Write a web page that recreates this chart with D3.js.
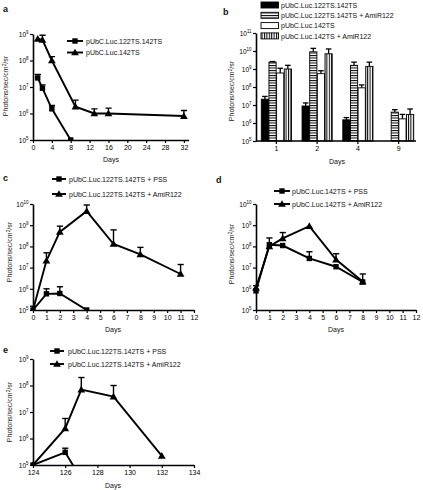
<!DOCTYPE html>
<html><head><meta charset="utf-8">
<script src="https://cdn.jsdelivr.net/npm/d3@7"></script>
<style>body{margin:0;background:#fff} svg{display:block}</style>
</head><body><svg id="chart" width="423" height="490"></svg>
<script>
// ---------- DATA ----------
// Panel a
const aNames = ["pUbC.Luc.122TS.142TS", "pUbC.Luc.142TS"];
const aDays1 = [1, 2, 4, 8];
const aVals1 = [2.2e7, 9e6, 1.5e6, 1e5];
const aErr1 = [3e7, 1.2e7, 2e6, null];
const aDays2 = [1, 2, 4, 9, 13, 16, 32];
const aVals2 = [6.5e8, 6e8, 1e8, 1.8e6, 1e6, 1e6, 8e5];
const aErr2 = [null, 9e8, 1.4e8, 3.2e6, 1.5e6, 1.6e6, 1.3e6];
const aXTicks = [0, 4, 8, 12, 16, 20, 24, 28, 32];
const aYExp = [5, 6, 7, 8, 9];

// Panel b
const bDays = ["1", "2", "4", "9"];
const bNames = ["pUbC.Luc.122TS.142TS", "pUbC.Luc.122TS.142TS + AmiR122", "pUbC.Luc.142TS", "pUbC.Luc.142TS + AmiR122"];
const bVals1 = [2.1e7, 8.8e6, 1.5e6, null];
const bErr1 = [3e7, 1.3e7, 2e6, null];
const bVals2 = [2.4e9, 9e9, 1.6e9, 4e6];
const bErr2 = [2.6e9, 1.4e10, 2.4e9, 5.5e6];
const bVals3 = [6e8, 5.5e8, 9e7, 1.7e6];
const bErr3 = [1.1e9, 8e8, 1.3e8, 3e6];
const bVals4 = [1e9, 7e9, 1.4e9, 3e6];
const bErr4 = [1.6e9, 1.3e10, 2.4e9, 6e6];
const bYExp = [5, 6, 7, 8, 9, 10, 11];

// Panel c
const cNames = ["pUbC.Luc.122TS.142TS + PSS", "pUbC.Luc.122TS.142TS + AmiR122"];
const cDays1 = [0, 1, 2, 4];
const cVals1 = [1e5, 5.8e5, 6e5, 1e5];
const cErr1 = [1.5e5, 1e6, 1.25e6, null];
const cDays2 = [0, 1, 2, 4, 6, 8, 11];
const cVals2 = [1e5, 2.1e7, 4.8e8, 4.6e9, 1.3e8, 4.2e7, 5e6];
const cErr2 = [null, 5e7, 9e8, 9e9, 6e8, 9e7, 1.4e7];
const cdXTicks = [0, 1, 2, 3, 4, 5, 6, 7, 8, 9, 10, 11, 12];
const cdYExp = [5, 6, 7, 8, 9, 10];

// Panel d
const dNames = ["pUbC.Luc.142TS + PSS", "pUbC.Luc.142TS + AmiR122"];
const dDays1 = [0, 1, 2, 4, 6, 8];
const dVals1 = [8e5, 1.2e8, 1.1e8, 2.7e7, 1.1e7, 2.1e6];
const dErr1 = [1.4e6, 2.5e8, null, 5.6e7, null, 5e6];
const dDays2 = [0, 1, 2, 4, 6, 8];
const dVals2 = [1.1e6, 1e8, 2.4e8, 9e8, 2.4e7, 2.2e6];
const dErr2 = [null, null, 4.5e8, null, 4.5e7, null];

// Panel e
const eNames = ["pUbC.Luc.122TS.142TS + PSS", "pUbC.Luc.122TS.142TS + AmiR122"];
const eDays1 = [124, 126, 127];
const eVals1 = [1e5, 3e5, 3e4];
const eErr1 = [null, 4.3e5, null];
const eDays2 = [124, 126, 127, 129, 132];
const eVals2 = [1e5, 2.4e6, 7e7, 3.8e7, 2.2e5];
const eErr2 = [null, 5.7e6, 2e8, 1e8, null];
const eXTicks = [124, 126, 128, 130, 132, 134];
const eYExp = [5, 6, 7, 8, 9];

// ---------- DRAWING ----------
const FONT = '"Liberation Sans", Arial, Helvetica, sans-serif';
const svg = d3.select("#chart").attr("font-family", FONT);

const defs = svg.append("defs");
const ph = defs.append("pattern").attr("id", "hstripe").attr("patternUnits", "userSpaceOnUse")
  .attr("width", 4).attr("height", 2.5);
ph.append("rect").attr("width", 4).attr("height", 2.5).attr("fill", "#fff");
ph.append("rect").attr("width", 4).attr("height", 1).attr("fill", "#000");
const pv = defs.append("pattern").attr("id", "vstripe").attr("patternUnits", "userSpaceOnUse")
  .attr("width", 2.4).attr("height", 4);
pv.append("rect").attr("width", 2.4).attr("height", 4).attr("fill", "#fff");
pv.append("rect").attr("width", 1).attr("height", 4).attr("fill", "#000");

function supText(t, exp, fs) {
  t.append("tspan").text("10");
  t.append("tspan").attr("dy", -fs * 0.45).attr("font-size", fs * 0.68).text(exp);
}

function yAxis(y, x0, exps, fs) {
  const ax = d3.axisLeft(y).tickValues(exps.map(e => Math.pow(10, e))).tickSize(3).tickSizeOuter(0).tickFormat(() => "");
  const g = svg.append("g").attr("transform", `translate(${x0},0)`).call(ax).attr("font-family", FONT);
  g.select(".domain").attr("stroke-width", 1.6);
  g.selectAll(".tick line").attr("stroke-width", 1.2);
  g.selectAll(".tick").each(function (d) {
    const t = d3.select(this).select("text");
    t.text(null).attr("x", -4.5).attr("dy", "0.35em").attr("font-size", fs).attr("text-anchor", "end");
    supText(t, Math.round(Math.log10(d)), fs);
  });
}

function xAxis(x, y0, ticks, fs) {
  const ax = d3.axisBottom(x).tickValues(ticks).tickSize(3).tickSizeOuter(0);
  const g = svg.append("g").attr("transform", `translate(0,${y0})`).call(ax).attr("font-family", FONT);
  g.select(".domain").attr("stroke-width", 1.6);
  g.selectAll(".tick line").attr("stroke-width", 1.2);
  g.selectAll(".tick text").attr("font-size", fs).attr("y", 5.5);
  return g;
}

function ylabel(x, y, fs) {
  const t = svg.append("text").attr("transform", `translate(${x},${y}) rotate(-90)`)
    .attr("text-anchor", "middle").attr("font-size", fs).attr("fill", "#222");
  t.append("tspan").text("Photons/sec/cm");
  t.append("tspan").attr("dy", -2.5).attr("font-size", fs * 0.7).text("2");
  t.append("tspan").attr("dy", 2.5).text("/sr");
}
function textAt(x, y, s, fs, opts = {}) {
  return svg.append("text").attr("x", x).attr("y", y).attr("font-size", fs)
    .attr("text-anchor", opts.anchor || "start").attr("font-weight", opts.bold ? "bold" : "normal")
    .attr("fill", "#111").text(s);
}

function marker(g, sym, cx, cy) {
  if (sym === "square") {
    g.append("rect").attr("x", cx - 2.7).attr("y", cy - 2.7).attr("width", 5.4).attr("height", 5.4).attr("fill", "#000");
  } else {
    g.append("path").attr("d", d3.symbol().type(d3.symbolTriangle).size(26)())
      .attr("transform", `translate(${cx},${cy + 0.6})`).attr("fill", "#000");
  }
}

let clipN = 0;
function linePanel(p) {
  const x = d3.scaleLinear().domain(p.xd).range(p.xr);
  const y = d3.scaleLog().domain(p.yd).range(p.yr);
  const id = "clip" + (clipN++);
  defs.append("clipPath").attr("id", id).append("rect")
    .attr("x", p.xr[0] - 6).attr("y", p.yr[1] - 12).attr("width", p.xr[1] - p.xr[0] + 12).attr("height", p.yr[0] - p.yr[1] + 12);
  const g = svg.append("g").attr("clip-path", `url(#${id})`);
  const line = d3.line().x(d => x(d[0])).y(d => y(d[1]));
  p.series.forEach(s => {
    const pts = s.days.map((d, i) => [d, s.vals[i], s.err[i]]);
    g.append("path").datum(pts).attr("d", line).attr("fill", "none").attr("stroke", "#000").attr("stroke-width", 1.9);
    pts.forEach(q => {
      if (q[2] != null) {
        g.append("line").attr("x1", x(q[0])).attr("x2", x(q[0])).attr("y1", y(q[1])).attr("y2", y(q[2]))
          .attr("stroke", "#000").attr("stroke-width", 1.4);
        g.append("line").attr("x1", x(q[0]) - 3).attr("x2", x(q[0]) + 3.2).attr("y1", y(q[2])).attr("y2", y(q[2]))
          .attr("stroke", "#000").attr("stroke-width", 1.4);
      }
      marker(g, s.sym, x(q[0]), y(q[1]));
    });
  });
  yAxis(y, p.xr[0], p.yexp, 6.5);
  xAxis(x, p.yr[0], p.xticks, 7);
  // legend
  p.series.forEach((s, i) => {
    const ly = p.leg.y + i * p.leg.dy;
    svg.append("line").attr("x1", p.leg.x0).attr("x2", p.leg.x1).attr("y1", ly).attr("y2", ly)
      .attr("stroke", "#000").attr("stroke-width", 1.9);
    marker(svg, s.sym, (p.leg.x0 + p.leg.x1) / 2, ly);
    textAt(p.leg.tx, ly + 2.5, s.name, 7);
  });
  ylabel(p.ylab[0], p.ylab[1], 7);
  textAt(p.days[0], p.days[1], "Days", 7, { anchor: "middle" });
  textAt(p.letter[0], p.letter[1], p.letter[2], 9, { bold: true });
}

// Panel a
linePanel({
  xd: [0, 33], xr: [33, 188.6], yd: [1e5, 1e9], yr: [140, 34],
  xticks: aXTicks, yexp: aYExp,
  series: [
    { name: aNames[0], days: aDays1, vals: aVals1, err: aErr1, sym: "square" },
    { name: aNames[1], days: aDays2, vals: aVals2, err: aErr2, sym: "triangle" }
  ],
  leg: { x0: 67, x1: 83, y: 41, dy: 11.5, tx: 86 },
  ylab: [8, 86], days: [111, 162], letter: [3, 12, "a"]
});

// Panel c
linePanel({
  xd: [0, 12], xr: [33, 194], yd: [1e5, 1e10], yr: [310, 204],
  xticks: cdXTicks, yexp: cdYExp,
  series: [
    { name: cNames[0], days: cDays1, vals: cVals1, err: cErr1, sym: "square" },
    { name: cNames[1], days: cDays2, vals: cVals2, err: cErr2, sym: "triangle" }
  ],
  leg: { x0: 52, x1: 66, y: 179, dy: 15, tx: 69 },
  ylab: [12, 252], days: [113, 332], letter: [3, 181, "c"]
});

// Panel d
linePanel({
  xd: [0, 12], xr: [256, 416], yd: [1e5, 1e10], yr: [310, 204],
  xticks: cdXTicks, yexp: cdYExp,
  series: [
    { name: dNames[0], days: dDays1, vals: dVals1, err: dErr1, sym: "square" },
    { name: dNames[1], days: dDays2, vals: dVals2, err: dErr2, sym: "triangle" }
  ],
  leg: { x0: 274, x1: 290, y: 191, dy: 13, tx: 292 },
  ylab: [234, 254], days: [336, 332], letter: [216, 183, "d"]
});

// Panel e
linePanel({
  xd: [124, 134], xr: [33, 194], yd: [1e5, 1e9], yr: [465, 359],
  xticks: eXTicks, yexp: eYExp,
  series: [
    { name: eNames[0], days: eDays1, vals: eVals1, err: eErr1, sym: "square" },
    { name: eNames[1], days: eDays2, vals: eVals2, err: eErr2, sym: "triangle" }
  ],
  leg: { x0: 50, x1: 64, y: 351, dy: 13, tx: 68 },
  ylab: [12, 412], days: [113, 488], letter: [3, 353, "e"]
});

// Panel b (bars)
(function () {
  const x0 = d3.scaleBand().domain(bDays).range([256, 419]).paddingInner(0.26).paddingOuter(0.13);
  const x1 = d3.scaleBand().domain(bNames).range([0, x0.bandwidth()]).paddingInner(0.06);
  const y = d3.scaleLog().domain([1e5, 1e11]).range([141, 33]);
  const fills = ["#000", "url(#hstripe)", "#fff", "url(#vstripe)"];
  const vals = [bVals1, bVals2, bVals3, bVals4];
  const errs = [bErr1, bErr2, bErr3, bErr4];
  const g = svg.append("g");
  bNames.forEach((nm, si) => {
    bDays.forEach((d, di) => {
      const v = vals[si][di];
      if (v == null) return;
      const bx = x0(d) + x1(nm), bw = x1.bandwidth();
      const e = errs[si][di];
      if (e != null) {
        g.append("line").attr("x1", bx + bw / 2).attr("x2", bx + bw / 2).attr("y1", y(v)).attr("y2", y(e)).attr("stroke", "#000").attr("stroke-width", 1.3);
        g.append("line").attr("x1", bx + bw / 2 - 2.8).attr("x2", bx + bw / 2 + 2.8).attr("y1", y(e)).attr("y2", y(e)).attr("stroke", "#000").attr("stroke-width", 1.3);
      }
      g.append("rect").attr("x", bx).attr("y", y(v)).attr("width", bw).attr("height", y(1e5) - y(v))
        .attr("fill", fills[si]).attr("stroke", "#000").attr("stroke-width", 0.9);
    });
  });
  yAxis(y, 256, bYExp, 6.5);
  const xa = d3.axisBottom(x0).tickSize(3).tickSizeOuter(0);
  const ag = svg.append("g").attr("transform", "translate(0,141)").call(xa).attr("font-family", FONT);
  ag.select(".domain").attr("stroke-width", 1.6).attr("d", "M256,0H416");
  ag.selectAll(".tick line").attr("stroke-width", 1.2);
  ag.selectAll(".tick text").attr("font-size", 7).attr("y", 5.5);
  // legend
  bNames.forEach((nm, i) => {
    const ly = 5 + i * 10.3;
    svg.append("rect").attr("x", 261).attr("y", ly - 3).attr("width", 17.5).attr("height", 6)
      .attr("fill", fills[i]).attr("stroke", "#000").attr("stroke-width", 0.9);
    textAt(281, ly + 2.6, nm, 7);
  });
  ylabel(234, 91, 7);
  textAt(337, 164, "Days", 7, { anchor: "middle" });
  textAt(223, 15, "b", 9, { bold: true });
})();
</script>
</body></html>
